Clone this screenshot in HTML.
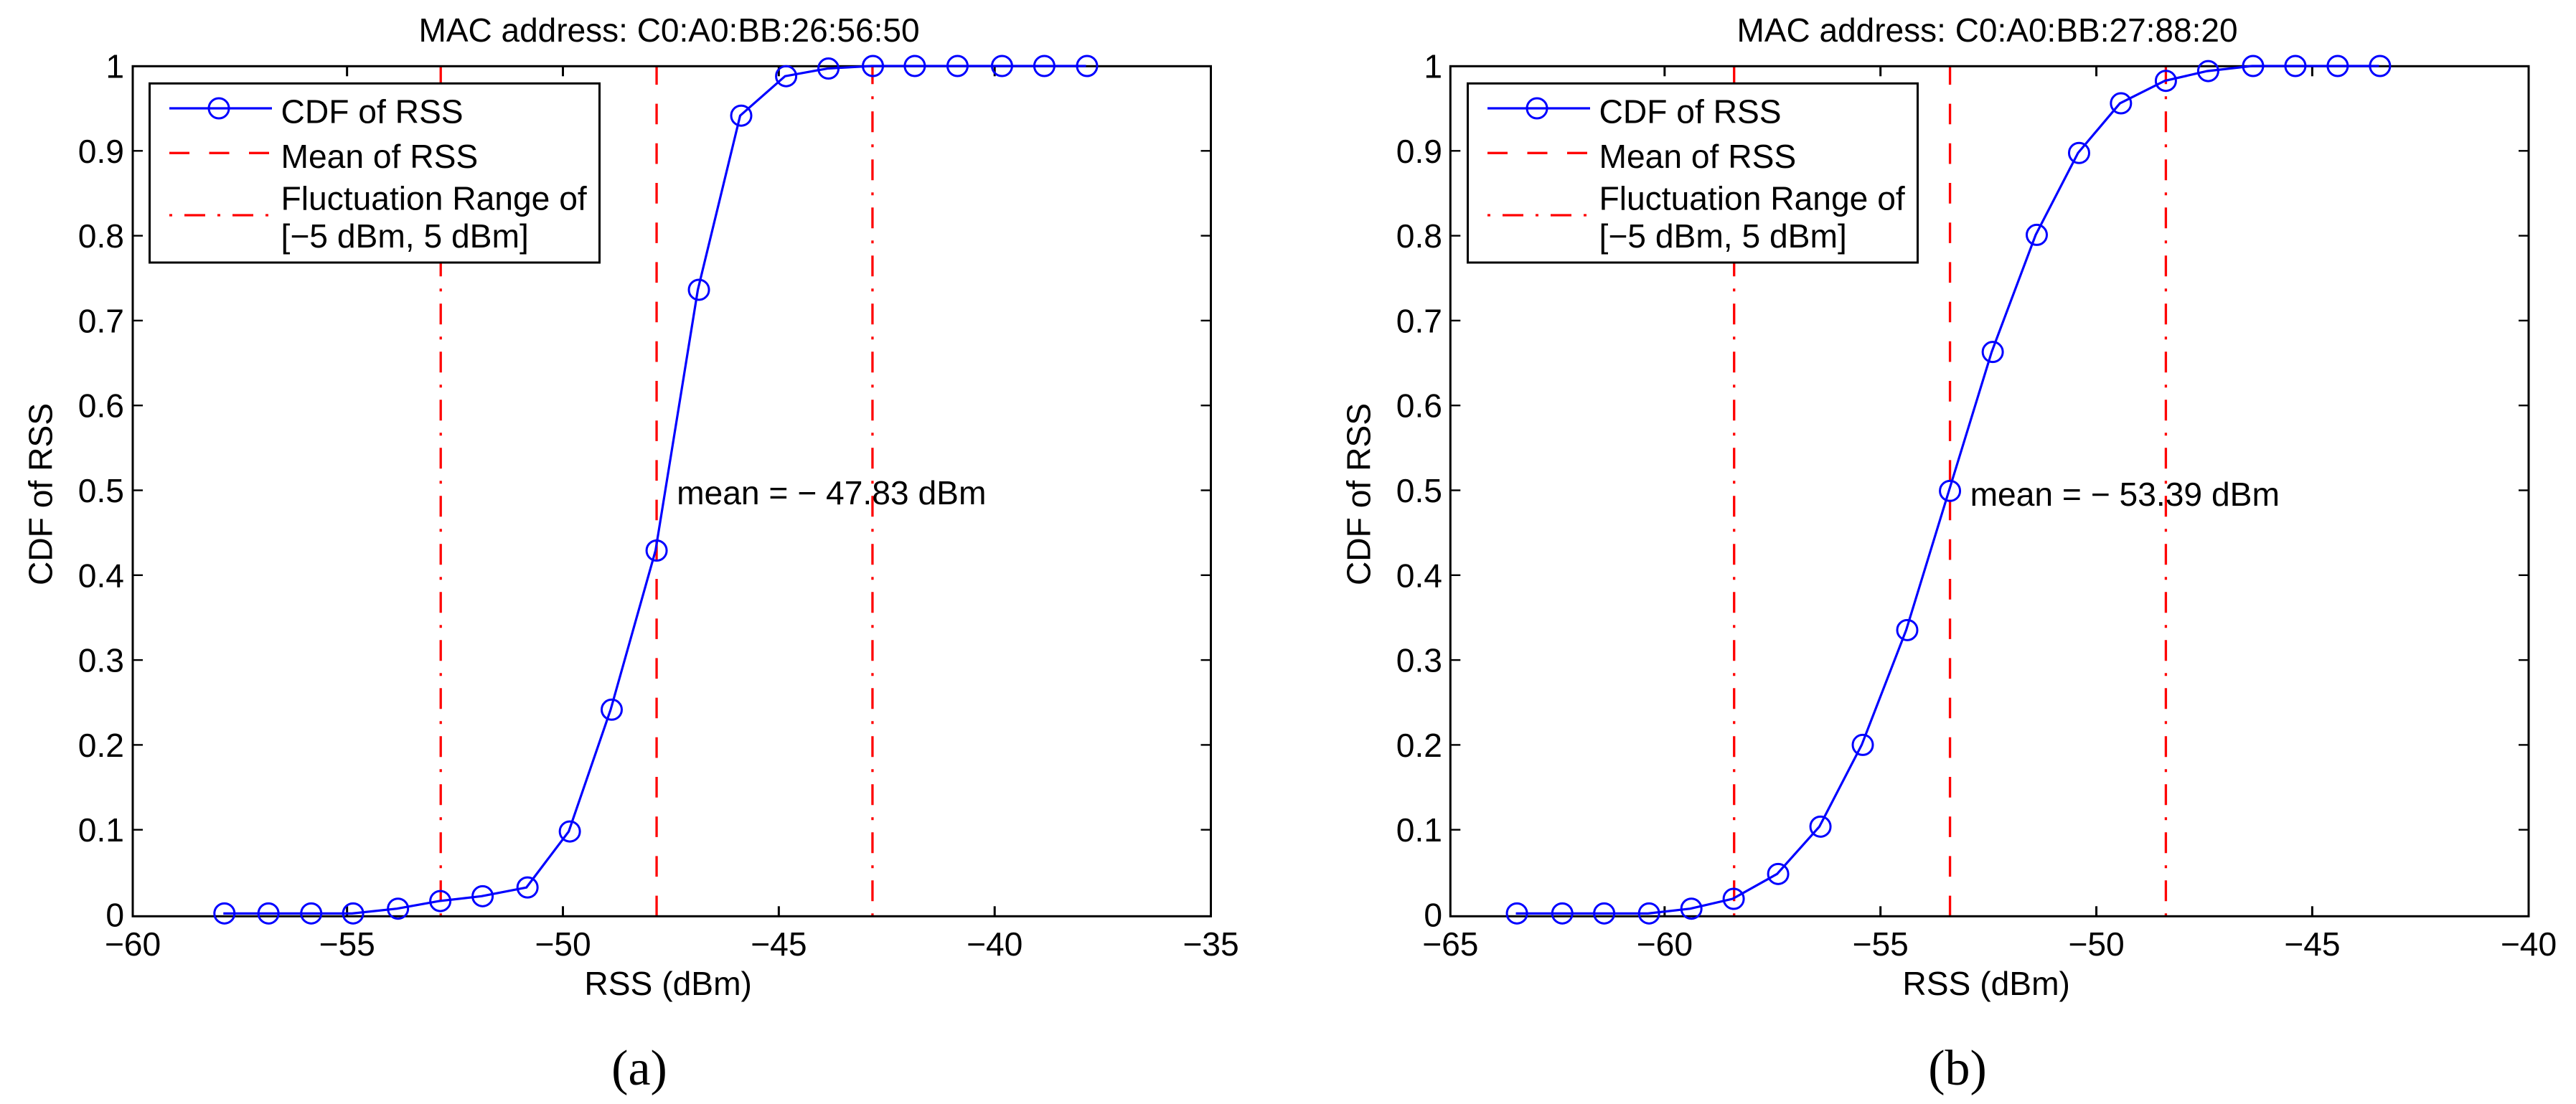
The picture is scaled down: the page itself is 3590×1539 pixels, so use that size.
<!DOCTYPE html>
<html lang="en">
<head>
<meta charset="utf-8">
<title>CDF of RSS for two MAC addresses</title>
<style>
html,body{margin:0;padding:0;background:#fff;}
svg{display:block;}
text{font-family:"Liberation Sans",Arial,sans-serif;font-size:46.2px;fill:#000;}
.ttl{font-size:46px;}
.cap{font-family:"Liberation Serif","Times New Roman",serif;font-size:70px;}
</style>
</head>
<body>
<svg id="fig" xmlns="http://www.w3.org/2000/svg" width="3590" height="1539" viewBox="0 0 3590 1539">
  <rect x="0" y="0" width="3590" height="1539" fill="#fff"/>
  <g id="chartA"></g>
  <g id="chartB"></g>
</svg>
<script>
// ---- Chart (a) data ----
const rssA = [-57.84,-56.82,-55.83,-54.86,-53.82,-52.84,-51.86,-50.82,-49.84,-48.87,-47.83,-46.85,-45.87,-44.83,-43.85,-42.82,-41.85,-40.86,-39.83,-38.85,-37.86];
const cdfA = [0.0014,0.0014,0.0014,0.0014,0.007,0.016,0.0217,0.032,0.098,0.2415,0.429,0.7363,0.9415,0.988,0.997,1,1,1,1,1,1];
const xTicksA = [-60,-55,-50,-45,-40,-35];
const meanA = -47.83;
const rangeA = [-52.83,-42.83];
const titleA = "MAC address: C0:A0:BB:26:56:50";
const meanTextA = "mean = \u2212 47.83 dBm";

// ---- Chart (b) data ----
const rssB = [-63.42,-62.37,-61.40,-60.36,-59.38,-58.40,-57.37,-56.39,-55.41,-54.38,-53.39,-52.40,-51.38,-50.40,-49.43,-48.39,-47.41,-46.37,-45.39,-44.41,-43.43];
const cdfB = [0.0014,0.0014,0.0014,0.0014,0.007,0.0186,0.0479,0.1037,0.2,0.3353,0.4993,0.663,0.801,0.8975,0.956,0.9825,0.994,1,1,1,1];
const xTicksB = [-65,-60,-55,-50,-45,-40];
const meanB = -53.39;
const rangeB = [-58.39,-48.39];
const titleB = "MAC address: C0:A0:BB:27:88:20";
const meanTextB = "mean = \u2212 53.39 dBm";

// ---- Shared data ----
const yTicks = [0,0.1,0.2,0.3,0.4,0.5,0.6,0.7,0.8,0.9,1];
const yTickLabels = ["0","0.1","0.2","0.3","0.4","0.5","0.6","0.7","0.8","0.9","1"];
const legendLabels = ["CDF of RSS","Mean of RSS","Fluctuation Range of","[\u22125 dBm, 5 dBm]"];

const NS = "http://www.w3.org/2000/svg";
const BLUE = "#0000ff", RED = "#ff0000";
const DASH = "28.7 26.5", DASHDOT = "4 17 29 17";

function mk(tag, attrs, parent){
  const el = document.createElementNS(NS, tag);
  for (const k in attrs) el.setAttribute(k, attrs[k]);
  parent.appendChild(el);
  return el;
}
function tickText(v){ return v < 0 ? "\u2212" + Math.abs(v) : String(v); }
function yScale(v){ return 1275 - 1183 * v; }

function drawChart(root, off, x0px, xMin, left, right, xs, ys, xTicks, mean, range, title, meanText, meanY, caption){
  const top = 92.3, bottom = 1277.3;
  const x = function(v){ return x0px + (v - xMin) * 60.17; };

  // vertical reference lines
  const meanLine = mk("line", {x1:x(mean), x2:x(mean), y1:bottom, y2:top, stroke:RED, "stroke-width":3.3, "stroke-dasharray":DASH}, root);
  
  
  range.forEach(function(r){
    const l = mk("line", {x1:x(r), x2:x(r), y1:bottom, y2:top, stroke:RED, "stroke-width":3.3, "stroke-dasharray":DASHDOT}, root);
    
    
  });

  // frame
  const frame = mk("rect", {x:left, y:top, width:right-left, height:bottom-top, fill:"none", stroke:"#000", "stroke-width":3}, root);
  
  

  // x ticks and labels
  xTicks.forEach(function(t, i){
    const px = i === 0 ? left : (i === xTicks.length - 1 ? right : x(t));
    if (i > 0 && i < xTicks.length - 1) {
      const a = mk("line", {x1:px, x2:px, y1:bottom, y2:bottom-14, stroke:"#000", "stroke-width":3}, root);
      
      
      const b = mk("line", {x1:px, x2:px, y1:top, y2:top+14, stroke:"#000", "stroke-width":3}, root);
      
      
    }
    const lab = mk("text", {x:px, y:1332, "text-anchor":"middle"}, root);
    lab.textContent = tickText(t);
    
    
  });

  // y ticks and labels
  yTicks.forEach(function(t, i){
    const py = yScale(t);
    if (t > 0 && t < 1) {
      const a = mk("line", {x1:left, x2:left+14, y1:py, y2:py, stroke:"#000", "stroke-width":2.4}, root);
      
      
      const b = mk("line", {x1:right, x2:right-14, y1:py, y2:py, stroke:"#000", "stroke-width":2.4}, root);
      
      
    }
    const lab = mk("text", {x:off+173, y:py+16.5, "text-anchor":"end"}, root);
    lab.textContent = yTickLabels[i];
    
    
  });

  // CDF series
  const pts = xs.map(function(v, i){ return x(v).toFixed(2) + "," + yScale(ys[i]).toFixed(2); }).join(" ");
  const poly = mk("polyline", {points:pts, fill:"none", stroke:BLUE, "stroke-width":3.2, transform:"translate(-1.5,0)"}, root);
  
  
  xs.forEach(function(v, i){
    const c = mk("circle", {cx:x(v), cy:yScale(ys[i]), r:14, fill:"none", stroke:BLUE, "stroke-width":3}, root);
    
    
  });

  // texts
  const t1 = mk("text", {x:off+583.5, y:58, "class":"ttl"}, root);
  t1.textContent = title;
  
  

  const t2 = mk("text", {x:off+814.4, y:1387}, root);
  t2.textContent = "RSS (dBm)";
  
  

  const t3 = mk("text", {x:off+72.7, y:689, "text-anchor":"middle", transform:"rotate(-90 " + (off+72.7) + " 689)"}, root);
  t3.textContent = "CDF of RSS";
  
  

  const t4 = mk("text", {x:x(mean)+28, y:meanY}, root);
  t4.textContent = meanText;
  
  

  const t5 = mk("text", {x:off+891, y:1512, "text-anchor":"middle", "class":"cap"}, root);
  t5.textContent = caption;
  
  

  // legend
  const lg = mk("g", {transform:"translate(" + off + ",0)"}, root);
  
  

  const box = mk("rect", {x:208.5, y:116.3, width:627, height:249.7, fill:"#fff", stroke:"#000", "stroke-width":3}, lg);
  
  

  const s1 = mk("line", {x1:236, x2:379, y1:151, y2:151, stroke:BLUE, "stroke-width":3.2}, lg);
  
  

  const s1m = mk("circle", {cx:305, cy:151, r:14, fill:"none", stroke:BLUE, "stroke-width":3}, lg);
  
  

  const s2 = mk("line", {x1:236, x2:376, y1:213.3, y2:213.3, stroke:RED, "stroke-width":3.3, "stroke-dasharray":"28 27.5"}, lg);
  
  

  const s3 = mk("line", {x1:236, x2:374, y1:300, y2:300, stroke:RED, "stroke-width":3.3, "stroke-dasharray":DASHDOT}, lg);
  
  

  const e1 = mk("text", {x:391.5, y:171.7}, lg);
  e1.textContent = legendLabels[0];
  
  

  const e2 = mk("text", {x:391.5, y:234}, lg);
  e2.textContent = legendLabels[1];
  
  

  const e3 = mk("text", {x:391.5, y:292.7}, lg);
  e3.textContent = legendLabels[2];
  
  

  const e4 = mk("text", {x:391.5, y:345}, lg);
  e4.textContent = legendLabels[3];
  
  
}

drawChart(document.getElementById("chartA"), 0, 182.8, -60, 185, 1687.5, rssA, cdfA, xTicksA, meanA, rangeA, titleA, meanTextA, 703, "(a)");
drawChart(document.getElementById("chartB"), 1837, 2019, -65, 2021.3, 3524, rssB, cdfB, xTicksB, meanB, rangeB, titleB, meanTextB, 705, "(b)");
</script>
</body>
</html>
